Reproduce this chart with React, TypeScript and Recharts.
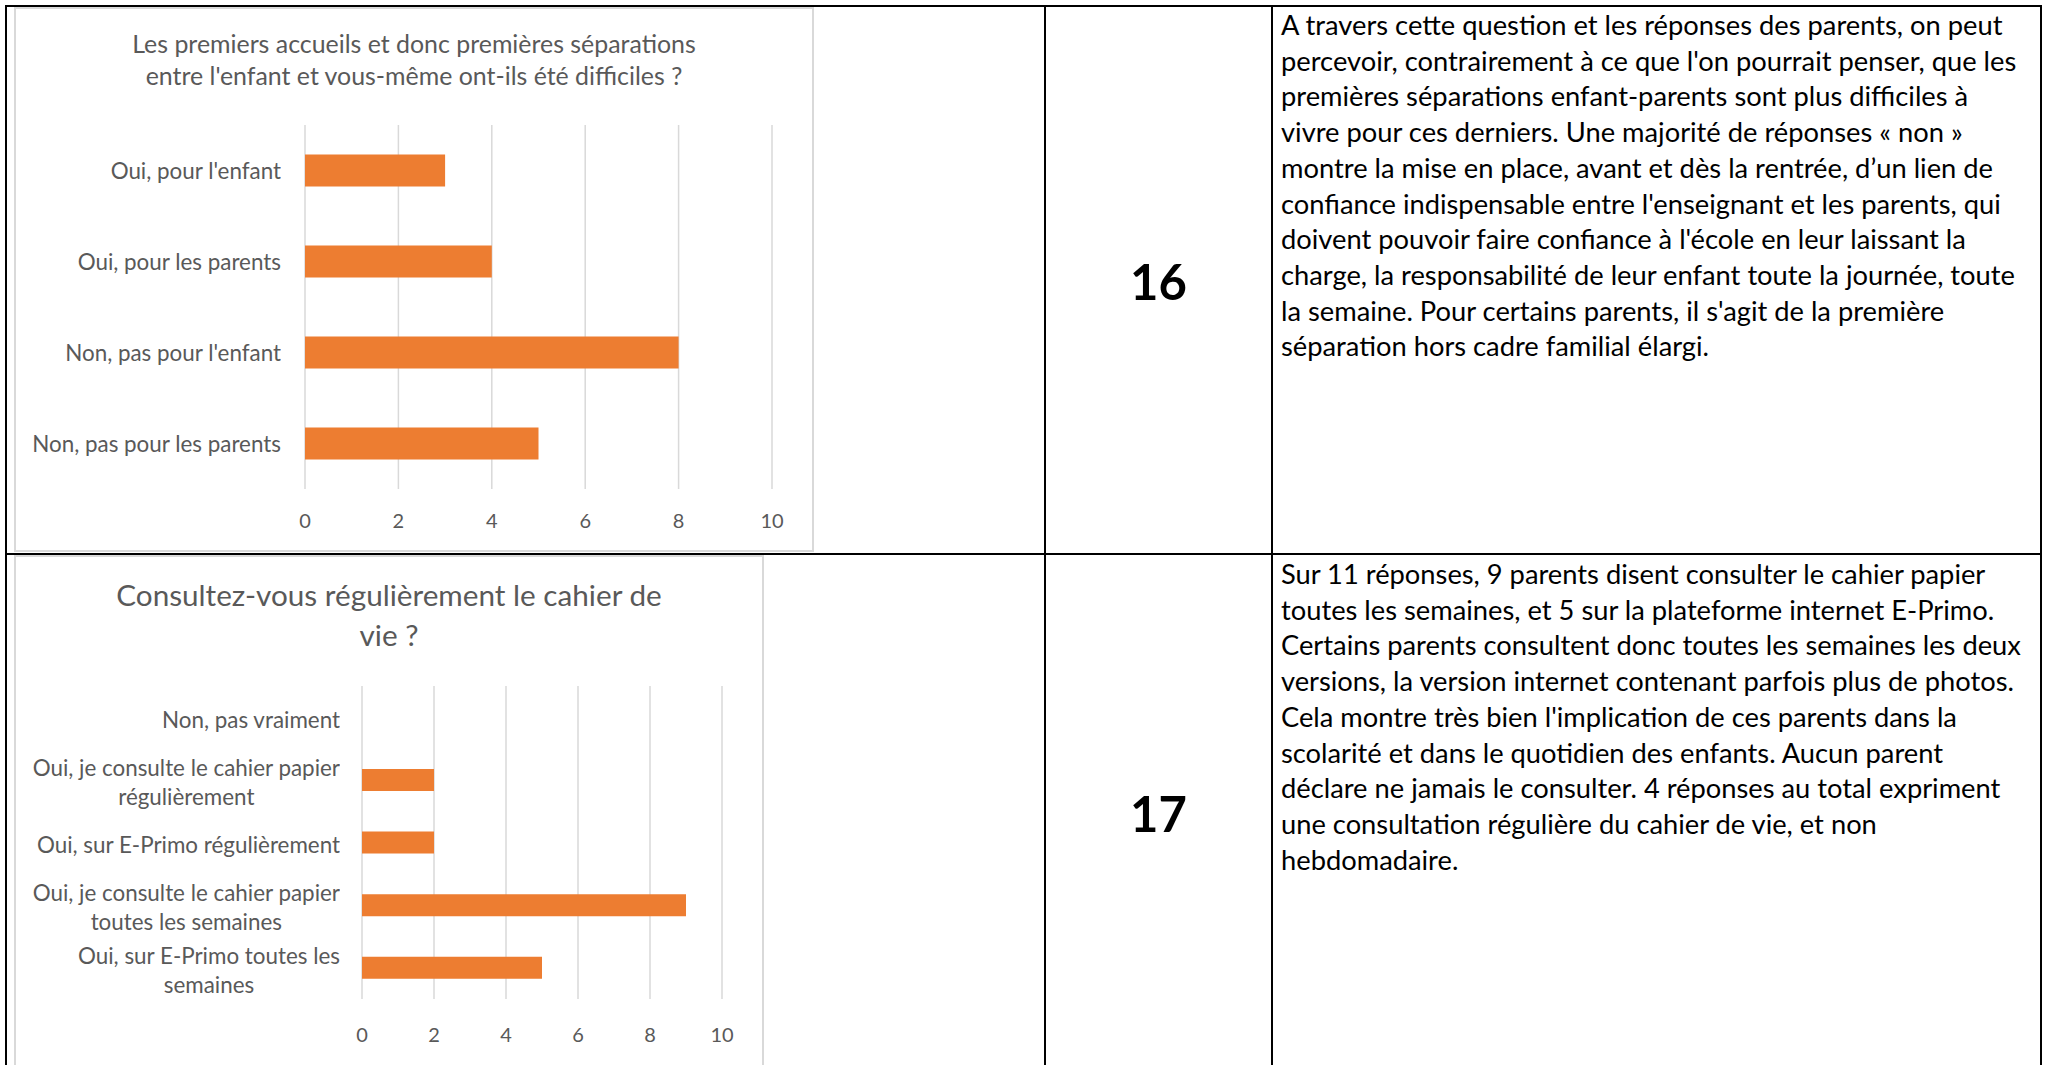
import React from 'react';
import { BarChart, Bar, XAxis, YAxis, CartesianGrid } from 'recharts';

// Question 16
const q16Categories = [
  "Oui, pour l'enfant",
  'Oui, pour les parents',
  "Non, pas pour l'enfant",
  'Non, pas pour les parents',
];
const q16Values = [3, 4, 8, 5];

// Question 17
const q17Categories = [
  'Non, pas vraiment',
  'Oui, je consulte le cahier papier régulièrement',
  'Oui, sur E-Primo régulièrement',
  'Oui, je consulte le cahier papier toutes les semaines',
  'Oui, sur E-Primo toutes les semaines',
];
const q17Values = [0, 2, 2, 9, 5];

const xTicks = [0, 2, 4, 6, 8, 10];

const q16Title = ['Les premiers accueils et donc premières séparations', "entre l'enfant et vous-même ont-ils été difficiles ?"];
const q17Title = ['Consultez-vous régulièrement le cahier de', 'vie ?'];

const q16Text = [
  'A travers cette question et les réponses des parents, on peut',
  "percevoir, contrairement à ce que l'on pourrait penser, que les",
  'premières séparations enfant-parents sont plus difficiles à',
  'vivre pour ces derniers. Une majorité de réponses « non »',
  'montre la mise en place, avant et dès la rentrée, d’un lien de',
  "confiance indispensable entre l'enseignant et les parents, qui",
  "doivent pouvoir faire confiance à l'école en leur laissant la",
  'charge, la responsabilité de leur enfant toute la journée, toute',
  "la semaine. Pour certains parents, il s'agit de la première",
  'séparation hors cadre familial élargi.',
];
const q17Text = [
  'Sur 11 réponses, 9 parents disent consulter le cahier papier',
  'toutes les semaines, et 5 sur la plateforme internet E-Primo.',
  'Certains parents consultent donc toutes les semaines les deux',
  'versions, la version internet contenant parfois plus de photos.',
  "Cela montre très bien l'implication de ces parents dans la",
  'scolarité et dans le quotidien des enfants. Aucun parent',
  'déclare ne jamais le consulter. 4 réponses au total expriment',
  'une consultation régulière du cahier de vie, et non',
  'hebdomadaire.',
];

const FONT = 'Lato, "Open Sans", sans-serif';
const GREY = '#595959';
const ORANGE = '#ED7D31';

// greedy wrap, like Excel does for long category names
function wrap(text: string, maxChars: number): string[] {
  const words = text.split(' ');
  const lines: string[] = [];
  let cur = '';
  for (const w of words) {
    const next = cur ? cur + ' ' + w : w;
    if (next.length > maxChars && cur) {
      lines.push(cur);
      cur = w;
    } else {
      cur = next;
    }
  }
  if (cur) lines.push(cur);
  return lines;
}

const CategoryTick = (props: any) => {
  const { x, y, payload, maxChars, lineHeight, fontSize, dy = 0 } = props;
  const rows = wrap(String(payload.value), maxChars);
  const h = rows.length * lineHeight;
  const w = 400;
  return (
    <foreignObject x={x - w} y={y - h / 2 + dy} width={w} height={h}>
      <div style={{ display: 'flex', justifyContent: 'flex-end', fontFamily: FONT, fontSize, lineHeight: lineHeight + 'px', color: GREY }}>
        <div style={{ textAlign: 'center', whiteSpace: 'nowrap' }}>
          {rows.map((r, i) => (
            <div key={i}>{r}</div>
          ))}
        </div>
      </div>
    </foreignObject>
  );
};

const line = (x: number, y: number, w: number, h: number, key: string) => (
  <div key={key} style={{ position: 'absolute', left: x, top: y, width: w, height: h, background: '#000' }} />
);

const App: React.FC = () => {
  const q16Data = q16Categories.map((c, i) => ({ name: c, value: q16Values[i] }));
  const q17Data = q17Categories.map((c, i) => ({ name: c, value: q17Values[i] }));

  const textStyle: React.CSSProperties = {
    position: 'absolute',
    left: 1281,
    fontFamily: FONT,
    fontSize: 27.3,
    lineHeight: '35.7px',
    color: '#000',
    whiteSpace: 'nowrap',
  };

  return (
    <div style={{ position: 'absolute', left: 0, top: 0, width: 2049, height: 1065, background: '#fff', overflow: 'hidden' }}>
      {/* chart 1 frame */}
      <div style={{ position: 'absolute', left: 14, top: 7, width: 800, height: 545, boxSizing: 'border-box', border: '2px solid #D9D9D9' }} />
      <div style={{ position: 'absolute', left: 14, top: 27, width: 800, textAlign: 'center', fontFamily: FONT, fontSize: 24.9, lineHeight: '32px', color: GREY }}>
        {q16Title.map((t, i) => <div key={i}>{t}</div>)}
      </div>
      <div style={{ position: 'absolute', left: 14, top: 7 }}>
        <BarChart width={800} height={545} data={q16Data} layout="vertical" margin={{ top: 118, right: 42, bottom: 23, left: 0 }} barCategoryGap="32.5%">
          <CartesianGrid horizontal={false} stroke="#D9D9D9" strokeWidth={1.5} />
          <XAxis type="number" domain={[0, 10]} ticks={xTicks} axisLine={false} tickLine={false} tickSize={0} tickMargin={25} height={40}
            tick={{ fill: GREY, fontSize: 20, fontFamily: FONT }} />
          <YAxis type="category" dataKey="name" width={291} axisLine={false} tickLine={false} tickSize={0} tickMargin={24}
            tick={<CategoryTick maxChars={40} lineHeight={28} fontSize={22.4} />} />
          <Bar dataKey="value" fill={ORANGE} isAnimationActive={false} />
        </BarChart>
      </div>

      {/* chart 2 frame */}
      <div style={{ position: 'absolute', left: 14, top: 555, width: 750, height: 530, boxSizing: 'border-box', border: '2px solid #D9D9D9' }} />
      <div style={{ position: 'absolute', left: 14, top: 575, width: 750, textAlign: 'center', fontFamily: FONT, fontSize: 29.7, lineHeight: '40px', color: GREY }}>
        {q17Title.map((t, i) => <div key={i}>{t}</div>)}
      </div>
      <div style={{ position: 'absolute', left: 14, top: 555 }}>
        <BarChart width={750} height={510} data={q17Data} layout="vertical" margin={{ top: 131, right: 42, bottom: 26, left: 0 }} barCategoryGap="32.5%">
          <CartesianGrid horizontal={false} stroke="#D9D9D9" strokeWidth={1.5} />
          <XAxis type="number" domain={[0, 10]} ticks={xTicks} axisLine={false} tickLine={false} tickSize={0} tickMargin={29} height={40}
            tick={{ fill: GREY, fontSize: 20, fontFamily: FONT }} />
          <YAxis type="category" dataKey="name" width={348} axisLine={false} tickLine={false} tickSize={0} tickMargin={22}
            tick={<CategoryTick maxChars={33} lineHeight={29} fontSize={22.4} dy={2} />} />
          <Bar dataKey="value" fill={ORANGE} isAnimationActive={false} />
        </BarChart>
      </div>

      {/* table borders */}
      {line(5, 5, 2037, 2, 'top')}
      {line(5, 5, 2, 1060, 'left')}
      {line(1044, 5, 2, 1060, 'c1')}
      {line(1271, 5, 2, 1060, 'c2')}
      {line(2040, 5, 2, 1060, 'right')}
      {line(5, 553, 2037, 2, 'row')}

      {/* question numbers */}
      <div style={{ position: 'absolute', left: 1046, width: 225, top: 248, textAlign: 'center', fontFamily: FONT, fontWeight: 700, fontSize: 49, lineHeight: '66px' }}>16</div>
      <div style={{ position: 'absolute', left: 1046, width: 225, top: 780, textAlign: 'center', fontFamily: FONT, fontWeight: 700, fontSize: 49, lineHeight: '66px' }}>17</div>

      {/* comments */}
      <div style={{ ...textStyle, top: 7 }}>
        {q16Text.map((t, i) => <div key={i}>{t}</div>)}
      </div>
      <div style={{ ...textStyle, top: 556 }}>
        {q17Text.map((t, i) => <div key={i}>{t}</div>)}
      </div>
    </div>
  );
};

export default App;
